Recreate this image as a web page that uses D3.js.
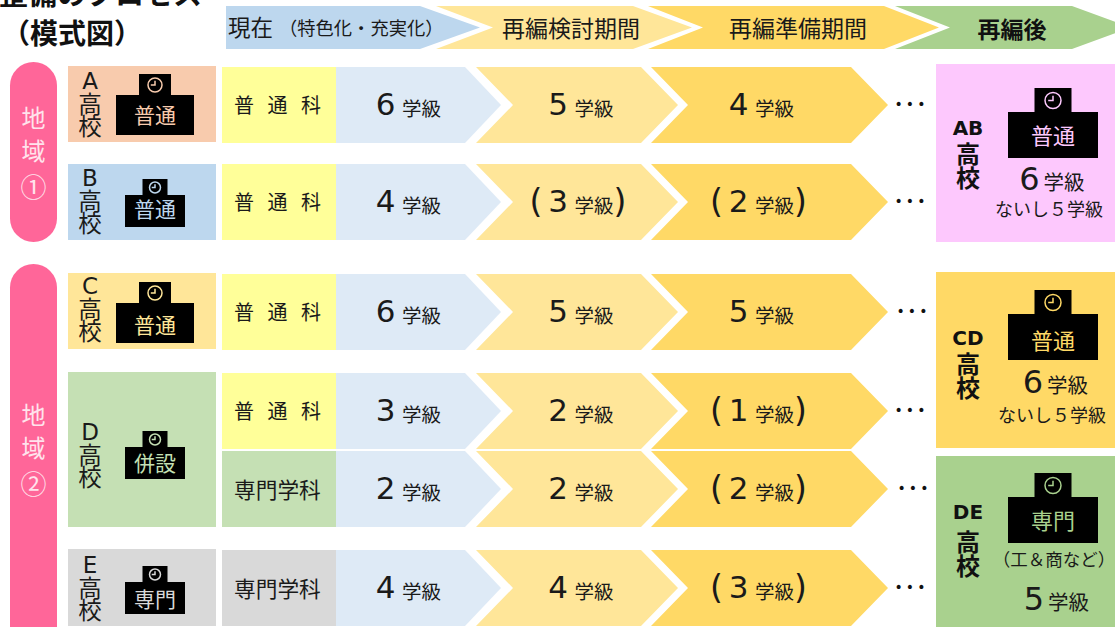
<!DOCTYPE html>
<html lang="ja">
<head>
<meta charset="utf-8">
<style>
  html, body { margin: 0; padding: 0; background: #fff; }
  svg { display: block; }
  text { font-family: "Noto Sans CJK JP", sans-serif; }
  .num { font-family: "DejaVu Sans", sans-serif; }
</style>
<script src="https://cdn.jsdelivr.net/npm/d3@7"></script>
</head>
<body>
<div id="chartWrap"></div>
<script>
'use strict'
//#region Data
const stages = ['現在', '再編検討期間', '再編準備期間', '再編後'];
const schools = ['A', 'B', 'C', 'D', 'E'];
const schoolTypes = ['普通', '普通', '普通', '併設', '専門'];
const rows = ['A', 'B', 'C', 'D1', 'D2', 'E'];
const subjects = ['普通科', '普通科', '普通科', '普通科', '専門学科', '専門学科'];
const currentClasses = [6, 4, 6, 3, 2, 4];
const reviewClasses = [5, 3, 5, 2, 2, 4];
const prepClasses = [4, 2, 5, 1, 2, 3];
const reviewTentative = [false, true, false, false, false, false];
const prepTentative = [false, true, false, true, true, true];
const regions = ['地域①', '地域②'];
const mergedSchools = ['AB', 'CD', 'DE'];
const mergedTypes = ['普通', '普通', '専門'];
const mergedClasses = [6, 6, 5];
const mergedNotes = ['ないし５学級', 'ないし５学級', '（工＆商など）'];
//#endregion Data

//#region Layout
const width = 1115, height = 627;
const rowH = 76;

const rowY = d3.scaleOrdinal().domain(rows).range([67, 164, 274, 373, 451, 550]);
const dotsShift = d3.scaleOrdinal().domain(rows).range([0, 0, 2, 0, 3, 0]);

const schoolY = d3.scaleOrdinal().domain(schools).range([66, 164, 273, 372, 549]);
const schoolH = d3.scaleOrdinal().domain(schools).range([76, 76, 76, 155, 77]);
const schoolFill = d3.scaleOrdinal().domain(schools).range(['#F8CBAD', '#BDD7EE', '#FFE699', '#C5E0B4', '#D9D9D9']);
const labelY = d3.scaleOrdinal().domain(schools).range([81, 178, 286, 432, 565]);
const iconTop = d3.scaleOrdinal().domain(schools).range([74, 179, 282, 431, 566]);
const iconTextY = d3.scaleOrdinal().domain(schools).range([115.5, 209, 325, 463, 599]);
const bigIcon = { bodyW: 78, bodyH: 40, towerW: 32, towerH: 21, r: 7, font: 21 };
const smallIcon = { bodyW: 60, bodyH: 32, towerW: 25, towerH: 16, r: 5.5, font: 21 };
const mergedIcon = { bodyW: 90, bodyH: 46, towerW: 37, towerH: 24, r: 8, font: 22 };
const iconSize = d3.scaleOrdinal().domain(schools).range([bigIcon, smallIcon, bigIcon, smallIcon, smallIcon]);

const svg = d3.select('#chartWrap').append('svg')
    .attr('width', width)
    .attr('height', height);

// central baseline sits a bit low for the CJK font, pull it back up
const centralFix = 1.5;

function label(g, str, x, y, size, opts) {
    opts = opts || {};
    const base = opts.base || 'central';
    return g.append('text')
        .attr('x', x)
        .attr('y', base === 'central' ? y - centralFix : y)
        .attr('font-size', size)
        .attr('text-anchor', opts.anchor || 'middle')
        .attr('dominant-baseline', base)
        .attr('font-weight', opts.bold ? 700 : 400)
        .attr('fill', opts.fill || '#1a1a1a')
        .attr('class', opts.cls || null)
        .text(str);
}

// vertical stack of lines kept in one text element
function stack(g, parts, x, size, opts) {
    opts = opts || {};
    const t = g.append('text')
        .attr('font-size', size)
        .attr('text-anchor', 'middle')
        .attr('dominant-baseline', 'central')
        .attr('font-weight', opts.bold ? 700 : 400)
        .attr('fill', opts.fill || '#1a1a1a');
    parts.forEach(p => {
        t.append('tspan')
            .attr('x', x)
            .attr('y', p.y - centralFix)
            .attr('font-size', p.size || size)
            .attr('class', p.cls || null)
            .text(p.str);
    });
    return t;
}

function chevron(g, x0, notch, shoulder, tip, y0, y1, fill) {
    const mid = (y0 + y1) / 2;
    const pts = [[x0, y0], [shoulder, y0], [tip, mid], [shoulder, y1], [x0, y1]];
    if (notch !== null) pts.push([notch, mid]);
    g.append('polygon')
        .attr('points', pts.map(p => p.join(',')).join(' '))
        .attr('fill', fill);
}

function schoolIcon(g, cx, top, size, fill, type, textY) {
    const t = g.append('g');
    t.append('rect').attr('x', cx - size.towerW / 2).attr('y', top)
        .attr('width', size.towerW).attr('height', size.towerH + 1).attr('fill', '#000');
    t.append('rect').attr('x', cx - size.bodyW / 2).attr('y', top + size.towerH)
        .attr('width', size.bodyW).attr('height', size.bodyH).attr('fill', '#000');
    const cy = top + size.towerH / 2 + 0.5;
    t.append('circle').attr('cx', cx).attr('cy', cy).attr('r', size.r)
        .attr('fill', 'none').attr('stroke', fill).attr('stroke-width', 1.5);
    t.append('path')
        .attr('d', `M${cx},${cy - size.r * 0.6}V${cy}H${cx - size.r * 0.6}`)
        .attr('fill', 'none').attr('stroke', fill).attr('stroke-width', 1.5);
    label(t, type, cx, textY, size.font, { fill: fill });
}
//#endregion Layout

//#region Title and header arrows
const head = svg.append('g').attr('class', 'head');
label(head, '整備のプロセス', -1, 5, 29, { anchor: 'start', base: 'auto', bold: true, fill: '#111' });
label(head, '（模式図）', 2, 44, 28, { anchor: 'start', base: 'auto', bold: true, fill: '#111' });

const headShapes = [
    [226, null, 420, 480, '#BDD7EE'],
    [436, 493, 633, 692, '#FFE699'],
    [648, 703, 884, 939, '#FFD966'],
    [895, 950, 1072, 1131, '#A9D18E']
];
headShapes.forEach(s => chevron(head, s[0], s[1], s[2], s[3], 6, 49, s[4]));

label(head, stages[0], 228, 27.5, 22.5, { anchor: 'start' });
label(head, '（特色化・充実化）', 279, 28.5, 18.3, { anchor: 'start' });
label(head, stages[1], 571, 28.5, 23);
label(head, stages[2], 798, 28.5, 23);
label(head, stages[3], 1012, 29.5, 23, { bold: true, fill: '#111' });
//#endregion Title and header arrows

//#region Region pills
const regionG = svg.append('g').attr('class', 'regions');
const regionTop = d3.scaleOrdinal().domain(regions).range([62, 264]);
const regionBottom = d3.scaleOrdinal().domain(regions).range([242, 650]);
const regionTextY = d3.scaleOrdinal().domain(regions).range([117, 414]);

regions.forEach(r => {
    regionG.append('rect')
        .attr('x', 10).attr('y', regionTop(r))
        .attr('width', 47).attr('height', regionBottom(r) - regionTop(r))
        .attr('rx', 23.5).attr('fill', '#FF6699');
    const chars = Array.from(r).map((c, i) => ({
        str: c,
        y: regionTextY(r) + i * 33 + (i === 2 ? 3.5 : 0),
        size: i === 2 ? 26 : 24
    }));
    stack(regionG, chars, 33.5, 24, { fill: '#FFE3EC' });
});
//#endregion Region pills

//#region School boxes
const schoolG = svg.append('g').attr('class', 'schools');
schools.forEach((s, i) => {
    const fill = schoolFill(s);
    schoolG.append('rect')
        .attr('x', 68).attr('y', schoolY(s))
        .attr('width', 148).attr('height', schoolH(s))
        .attr('fill', fill);
    stack(schoolG, [
        { str: s, y: labelY(s) + 1.5, size: 23, cls: 'num' },
        { str: '高', y: labelY(s) + 23 },
        { str: '校', y: labelY(s) + 45.5 }
    ], 90, 23.5);
    schoolIcon(schoolG, 155, iconTop(s), iconSize(s), fill, schoolTypes[i], iconTextY(s));
});
//#endregion School boxes

//#region Class rows
const rowG = svg.append('g').attr('class', 'rows');

function classText(g, value, tentative, digitX, y) {
    label(g, value, digitX, y + 10, 31, { base: 'auto', cls: 'num' });
    label(g, '学級', digitX + 16.5, y + 10.5, 19.5, { anchor: 'start', base: 'auto' });
    if (tentative) {
        label(g, '(', digitX - 22, y + 11, 33, { base: 'auto', cls: 'num' });
        label(g, ')', digitX + 62, y + 11, 33, { base: 'auto', cls: 'num' });
    }
}

rows.forEach((r, i) => {
    const y0 = rowY(r), y1 = y0 + rowH, mid = y0 + rowH / 2;

    chevron(rowG, 336, null, 465, 501, y0, y1, '#DEEAF6');
    chevron(rowG, 476, 513, 641, 678, y0, y1, '#FFE699');
    chevron(rowG, 651, 688, 851, 888, y0, y1, '#FFD966');

    const special = subjects[i] === '専門学科';
    rowG.append('rect')
        .attr('x', 222).attr('y', y0)
        .attr('width', 114).attr('height', rowH)
        .attr('fill', r === 'E' ? '#D9D9D9' : (special ? '#C5E0B4' : '#FFFF99'));

    const subj = label(rowG, subjects[i], 234, mid + 0.5, special ? 21.7 : 20, { anchor: 'start' });
    if (!special) subj.attr('letter-spacing', 13.5);

    classText(rowG, currentClasses[i], false, 385.5, mid);
    classText(rowG, reviewClasses[i], reviewTentative[i], 558, mid);
    classText(rowG, prepClasses[i], prepTentative[i], 738.5, mid);

    label(rowG, '•••', 911.5 + dotsShift(r), mid, 14, { cls: 'num', fill: '#111' })
        .attr('letter-spacing', 3);
});
//#endregion Class rows

//#region Merged schools
const mergedG = svg.append('g').attr('class', 'merged');
const mergedY = d3.scaleOrdinal().domain(mergedSchools).range([64, 272, 456]);
const mergedH = d3.scaleOrdinal().domain(mergedSchools).range([178, 176, 171]);
const mergedFill = d3.scaleOrdinal().domain(mergedSchools).range(['#FDC8FD', '#FFD966', '#A9D18E']);
const mergedLabelY = d3.scaleOrdinal().domain(mergedSchools).range([128, 338, 512]);
const mergedIconTop = d3.scaleOrdinal().domain(mergedSchools).range([88, 290, 473]);
const mergedTextY = d3.scaleOrdinal().domain(mergedSchools).range([135, 340, 520]);
const mergedClassY = d3.scaleOrdinal().domain(mergedSchools).range([190, 393, 610]);
const mergedDigitX = d3.scaleOrdinal().domain(mergedSchools).range([1029.5, 1033, 1034]);
const mergedNoteX = d3.scaleOrdinal().domain(mergedSchools).range([1049, 1052, 1054]);
const mergedNoteY = d3.scaleOrdinal().domain(mergedSchools).range([209, 415, 560]);
const mergedNoteSize = d3.scaleOrdinal().domain(mergedSchools).range([18, 18, 17.5]);

mergedSchools.forEach((s, i) => {
    const fill = mergedFill(s);
    mergedG.append('rect')
        .attr('x', 936).attr('y', mergedY(s))
        .attr('width', 179).attr('height', mergedH(s))
        .attr('fill', fill);
    const gap = s === 'DE' ? 29 : 25;
    stack(mergedG, [
        { str: s, y: mergedLabelY(s) + 1, size: 20, cls: 'num' },
        { str: '高', y: mergedLabelY(s) + gap },
        { str: '校', y: mergedLabelY(s) + gap + 24.5 }
    ], 968, 24, { bold: true, fill: '#111' });
    schoolIcon(mergedG, 1053, mergedIconTop(s), mergedIcon, fill, mergedTypes[i], mergedTextY(s));
    label(mergedG, mergedClasses[i], mergedDigitX(s), mergedClassY(s), 32, { base: 'auto', cls: 'num' });
    label(mergedG, '学級', mergedDigitX(s) + 14, mergedClassY(s), 20.5, { anchor: 'start', base: 'auto' });
    label(mergedG, mergedNotes[i], mergedNoteX(s), mergedNoteY(s), mergedNoteSize(s));
});
//#endregion Merged schools
</script>
</body>
</html>
